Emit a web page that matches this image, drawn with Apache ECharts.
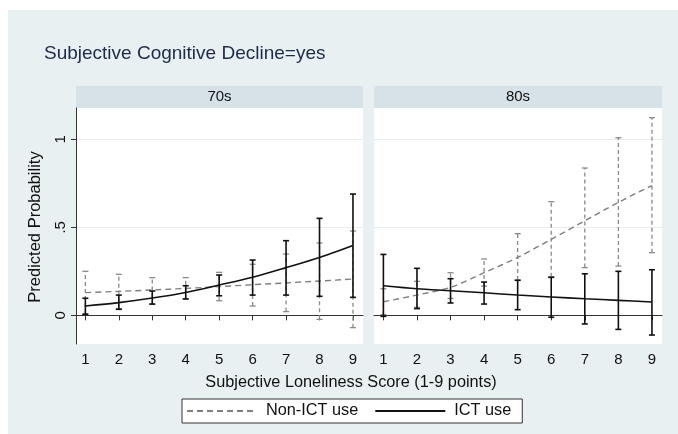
<!DOCTYPE html>
<html>
<head>
<meta charset="utf-8">
<script src="https://cdn.jsdelivr.net/npm/echarts@6/dist/echarts.min.js"></script>
<style>
  html, body { margin: 0; padding: 0; background: #fff; }
  #chart { width: 678px; height: 434px; }
</style>
</head>
<body>
<div id="chart"></div>
<script>
// loneliness score
var scores = [1, 2, 3, 4, 5, 6, 7, 8, 9]
var panels = ['70s', '80s']
var yTicks = [0, 0.5, 1]

// 70s, ICT use
var ict70 = [0.053, 0.072, 0.098, 0.13, 0.172, 0.216, 0.271, 0.329, 0.397]
var ict70Lo = [0.006, 0.034, 0.064, 0.093, 0.111, 0.115, 0.115, 0.108, 0.102]
var ict70Hi = [0.097, 0.115, 0.138, 0.168, 0.229, 0.314, 0.424, 0.551, 0.689]
// 70s, Non-ICT use
var non70 = [0.129, 0.136, 0.144, 0.153, 0.163, 0.174, 0.184, 0.195, 0.206]
var non70Lo = [0.008, 0.038, 0.062, 0.094, 0.083, 0.053, 0.021, -0.023, -0.07]
var non70Hi = [0.25, 0.233, 0.214, 0.214, 0.244, 0.29, 0.348, 0.411, 0.479]

// 80s, ICT use
var ict80 = [0.168, 0.151, 0.14, 0.128, 0.115, 0.104, 0.094, 0.085, 0.076]
var ict80Lo = [-0.006, 0.038, 0.07, 0.064, 0.032, -0.011, -0.049, -0.08, -0.112]
var ict80Hi = [0.346, 0.267, 0.208, 0.189, 0.199, 0.216, 0.236, 0.25, 0.259]
// 80s, Non-ICT use
var non80 = [0.077, 0.115, 0.159, 0.242, 0.329, 0.432, 0.537, 0.642, 0.737]
var non80Lo = [0.004, 0.045, 0.096, 0.166, 0.2, 0.219, 0.271, 0.28, 0.356]
var non80Hi = [0.151, 0.193, 0.242, 0.32, 0.464, 0.646, 0.837, 1.009, 1.123]

var FONT = 'Liberation Sans, Arial, sans-serif'
var BG = '#E9F0F2'
var STRIP = '#D6E2E8'
var GRIDLINE = '#E6EEF1'

function pairs(ys) {
  return scores.map((x, i) => [x, ys[i]])
}

function ranges(lo, hi) {
  return scores.map((x, i) => [x, lo[i], hi[i]])
}

function errRender(color, dashed, width) {
  return function (params, api) {
    var x = api.value(0)
    var lo = api.coord([x, api.value(1)])
    var hi = api.coord([x, api.value(2)])
    var cap = 3
    var style = { stroke: color, lineWidth: width, lineDash: dashed ? [4, 3] : null }
    var capStyle = { stroke: color, lineWidth: width }
    return {
      type: 'group',
      children: [
        { type: 'line', shape: { x1: lo[0], y1: lo[1], x2: hi[0], y2: hi[1] }, style: style },
        { type: 'line', shape: { x1: lo[0] - cap, y1: lo[1], x2: lo[0] + cap, y2: lo[1] }, style: capStyle },
        { type: 'line', shape: { x1: hi[0] - cap, y1: hi[1], x2: hi[0] + cap, y2: hi[1] }, style: capStyle }
      ]
    }
  }
}

function xAxisOpt(idx) {
  return {
    type: 'value',
    gridIndex: idx,
    min: 0.72,
    max: 9.3,
    axisLine: { show: true, lineStyle: { color: '#333', width: 1 } },
    axisTick: { show: true, length: 5, customValues: scores, lineStyle: { color: '#333' } },
    axisLabel: { customValues: scores, color: '#111', fontSize: 15, fontFamily: FONT, margin: 8 },
    splitLine: { show: false }
  }
}

function yAxisOpt(idx, visible) {
  return {
    type: 'value',
    gridIndex: idx,
    min: -0.163,
    max: 1.178,
    axisLine: { show: visible, lineStyle: { color: '#333', width: 1 } },
    axisTick: { show: visible, length: 5, customValues: yTicks, lineStyle: { color: '#333' } },
    axisLabel: {
      show: visible,
      customValues: yTicks,
      rotate: 90,
      color: '#111',
      fontSize: 15,
      fontFamily: FONT,
      margin: 8,
      formatter: v => (v === 0.5 ? '.5' : String(v))
    },
    splitLine: { show: true, lineStyle: { color: GRIDLINE, width: 1 } }
  }
}

var gridW = [
  { left: 76, top: 108, width: 287, height: 236 },
  { left: 374, top: 108, width: 288, height: 236 }
]

var series = []
var groups = [
  [ict70, ict70Lo, ict70Hi, non70, non70Lo, non70Hi],
  [ict80, ict80Lo, ict80Hi, non80, non80Lo, non80Hi]
]
groups.forEach((g, i) => {
  series.push({
    type: 'custom',
    xAxisIndex: i,
    yAxisIndex: i,
    renderItem: errRender('#8a8a8a', true, 1.3),
    data: ranges(g[4], g[5]),
    z: 2,
    silent: true
  })
  series.push({
    name: 'Non-ICT use',
    type: 'line',
    xAxisIndex: i,
    yAxisIndex: i,
    data: pairs(g[3]),
    symbol: 'none',
    smooth: 0.3,
    lineStyle: { color: '#7f7f7f', width: 1.4, type: [6, 4] },
    itemStyle: { color: '#7f7f7f' },
    z: 3
  })
  series.push({
    type: 'custom',
    xAxisIndex: i,
    yAxisIndex: i,
    renderItem: errRender('#111', false, 1.6),
    data: ranges(g[1], g[2]),
    z: 4,
    silent: true
  })
  series.push({
    name: 'ICT use',
    type: 'line',
    xAxisIndex: i,
    yAxisIndex: i,
    data: pairs(g[0]),
    symbol: 'none',
    smooth: 0.3,
    lineStyle: { color: '#111', width: 1.6 },
    itemStyle: { color: '#111' },
    z: 5
  })
})

var stripGraphics = []
gridW.forEach((g, i) => {
  stripGraphics.push({
    type: 'rect',
    shape: { x: g.left, y: 86, width: g.width, height: 22 },
    style: { fill: STRIP },
    z: 0
  })
  stripGraphics.push({
    type: 'text',
    x: g.left + g.width / 2,
    y: 97,
    style: {
      text: panels[i],
      fill: '#111',
      font: '15px ' + FONT,
      align: 'center',
      verticalAlign: 'middle'
    }
  })
})

var option = {
  backgroundColor: '#fff',
  animation: false,
  title: {
    text: 'Subjective Cognitive Decline=yes',
    left: 39,
    top: 39,
    textStyle: { color: '#1E2A4A', fontSize: 19, fontWeight: 'normal', fontFamily: FONT }
  },
  graphic: [
    {
      type: 'rect',
      shape: { x: 8, y: 10, width: 670, height: 424 },
      style: { fill: BG },
      z: -10
    },
    {
      type: 'rect',
      shape: { x: gridW[0].left, y: gridW[0].top, width: gridW[0].width, height: gridW[0].height },
      style: { fill: '#fff' },
      z: -9
    },
    {
      type: 'rect',
      shape: { x: gridW[1].left, y: gridW[1].top, width: gridW[1].width, height: gridW[1].height },
      style: { fill: '#fff' },
      z: -9
    },
    {
      type: 'text',
      x: 35,
      y: 227,
      rotation: Math.PI / 2,
      style: {
        text: 'Predicted Probability',
        fill: '#111',
        font: '16.5px ' + FONT,
        align: 'center',
        verticalAlign: 'middle'
      }
    },
    {
      type: 'text',
      x: 351,
      y: 383,
      style: {
        text: 'Subjective Loneliness Score (1-9 points)',
        fill: '#111',
        font: '16.3px ' + FONT,
        align: 'center',
        verticalAlign: 'middle'
      }
    }
  ].concat(stripGraphics),
  legend: {
    data: ['Non-ICT use', 'ICT use'],
    left: 182,
    top: 399,
    orient: 'horizontal',
    backgroundColor: '#fff',
    borderColor: '#333',
    borderWidth: 1,
    borderRadius: 0,
    padding: [4, 11, 4, 4],
    itemWidth: 70,
    itemHeight: 14,
    itemGap: 16,
    itemStyle: { opacity: 0 },
    textStyle: { color: '#111', fontSize: 16.3, fontFamily: FONT, padding: [0, 0, 0, 4] }
  },
  grid: gridW.map(g => Object.assign({ containLabel: false }, g)),
  xAxis: [xAxisOpt(0), xAxisOpt(1)],
  yAxis: [yAxisOpt(0, true), yAxisOpt(1, false)],
  series: series
}

var myChart = echarts.init(document.getElementById('chart'))
myChart.setOption(option)
window.addEventListener('resize', function () {
  myChart.resize()
})
</script>
</body>
</html>
